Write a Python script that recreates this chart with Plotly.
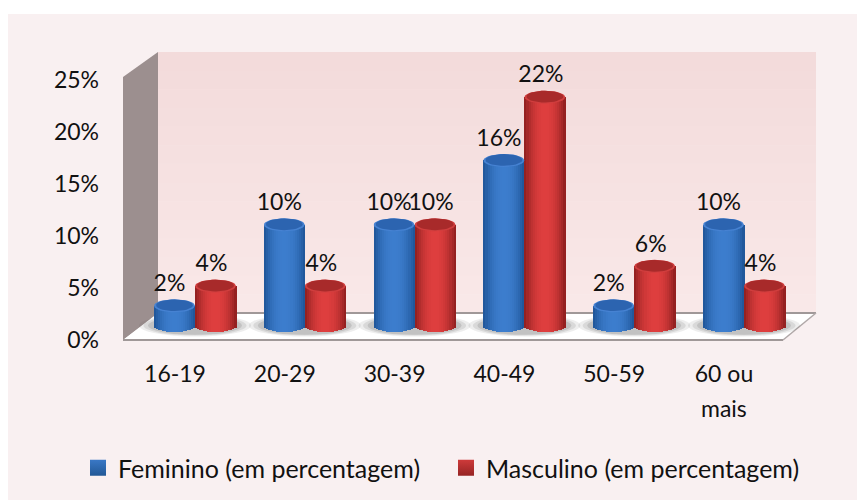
import math
import plotly.graph_objects as go

categories = ["16-19", "20-29", "30-39", "40-49", "50-59", "60 ou"]
extra_label = "mais"
feminino = [1.9, 9.7, 9.7, 15.9, 1.9, 9.7]
masculino = [3.8, 3.8, 9.7, 22.0, 5.7, 3.8]
y_ticks = [0, 5, 10, 15, 20, 25]
FONT = "Lato"
FS = 23
LEG_FS = 25

PAGE = 8                         # default page margin in front of the figure
W, H = 865, 500
L, R, T, B = 120, 820, 50, 344   # plot box in page px
PX0, UX = 175.0, 109.8           # px of first category, px per category
PY0, UY = 339.5, 10.38           # px of value 0, px per 1%

def dx(px): return (px - PX0) / UX
def dy(py): return (PY0 - py) / UY
def fx(px): return (px - L) / (R - L)
def fy(py): return (B - py) / (B - T)

BAR_W = 41 / UX
SHIFT = 20 / UX
DEPTH = dy(325.5)
RY = 6.5 / UY
N = 20

def lerp(a, b, t):
    return "rgb(%d,%d,%d)" % tuple(round(a[i] + (b[i] - a[i]) * t) for i in range(3))

series = [
    dict(name="Feminino (em percentagem)", vals=feminino, off=-BAR_W, edge=(30, 84, 150), mid=(60, 125, 205),
         cap=(44, 100, 176), rim=(70, 130, 210), leg=(58, 120, 198), leg2=(34, 88, 150)),
    dict(name="Masculino (em percentagem)", vals=masculino, off=0.0, edge=(140, 30, 30), mid=(222, 62, 62),
         cap=(168, 42, 42), rim=(208, 62, 62), leg=(206, 58, 58), leg2=(150, 36, 36)),
]

fig = go.Figure()

for s in series:
    sw = BAR_W / N
    for k in range(N):
        t = (k + 0.5) / N * 2 - 1
        drop = RY * math.sqrt(1 - t * t)
        fig.add_trace(go.Bar(
            x=list(range(len(categories))),
            y=[v + drop for v in s["vals"]],
            base=DEPTH - drop,
            width=sw * 1.25,
            offset=SHIFT + s["off"] + k * sw,
            marker=dict(color=lerp(s["edge"], s["mid"], 1 - abs(t) ** 2.2), line=dict(width=0)),
            showlegend=False, hoverinfo="skip",
        ))

def ellipses(vals, off, shrink, lift):
    xs, ys = [], []
    for i, v in enumerate(vals):
        cx = i + SHIFT + off + BAR_W / 2
        for a in range(0, 37):
            th = a * math.pi / 18
            xs.append(cx + (BAR_W / 2) * shrink * math.cos(th))
            ys.append(v + DEPTH + lift + RY * shrink * math.sin(th))
        xs.append(None); ys.append(None)
    return xs, ys

for s in series:
    x1, y1 = ellipses(s["vals"], s["off"], 1.0, 0)
    fig.add_trace(go.Scatter(x=x1, y=y1, mode="lines", fill="toself", fillcolor=lerp(s["rim"], s["rim"], 0),
                             line=dict(width=0), showlegend=False, hoverinfo="skip"))
    x2, y2 = ellipses(s["vals"], s["off"], 0.9, 0.05)
    fig.add_trace(go.Scatter(x=x2, y=y2, mode="lines", fill="toself", fillcolor=lerp(s["cap"], s["cap"], 0),
                             line=dict(width=0), showlegend=False, hoverinfo="skip"))

# data labels
LABEL_SHIFT = [-5 / UX, -4 / UX]
LABEL_LIFT = 2.5 / UY
for s, ls in zip(series, LABEL_SHIFT):
    fig.add_trace(go.Scatter(
        x=[i + SHIFT + s["off"] + BAR_W / 2 + ls for i in range(len(categories))],
        y=[v + DEPTH + RY + LABEL_LIFT for v in s["vals"]],
        mode="text", text=[f"{round(v)}%" for v in s["vals"]],
        textposition="top center", textfont=dict(family=FONT, size=FS, color="#111111"),
        showlegend=False, hoverinfo="skip", cliponaxis=False,
    ))

# legend entries
for s in series:
    fig.add_trace(go.Scatter(
        x=[None], y=[None], mode="markers", name=s["name"],
        marker=dict(symbol="square", size=16, color=lerp(s["leg"], s["leg"], 0),
                    gradient=dict(type="vertical", color=lerp(s["leg2"], s["leg2"], 0)), line=dict(width=0)),
    ))

shapes = []
def poly(points, fill, line=None, lw=0):
    path = "M" + "L".join(f"{dx(px):.4f},{dy(py):.4f}" for px, py in points) + "Z"
    shapes.append(dict(type="path", path=path, xref="x", yref="y", fillcolor=fill, layer="below",
                       line=dict(color=line or fill, width=lw)))

# card background
shapes.append(dict(type="rect", xref="paper", yref="paper", layer="below", line=dict(width=0), fillcolor="#F9F0F1",
                   x0=fx(0), x1=fx(W), y0=fy(H), y1=fy(14)))
# back wall bands
bands = 14
for b in range(bands):
    y0 = 52 + (313 - 52) * b / bands
    y1 = 52 + (313 - 52) * (b + 1) / bands + 0.5
    poly([(158, y0), (816, y0), (816, y1), (158, y1)], lerp((243, 219, 219), (249, 232, 232), b / (bands - 1)))
# side wall
poly([(123, 77), (158, 52), (158, 314), (123, 340)], "#9C8F8F")
# floor
poly([(123, 340), (158, 313), (816, 313), (783, 340)], "#FFFFFF")
shapes.append(dict(type="line", xref="x", yref="y", layer="below", x0=dx(158), x1=dx(816), y0=dy(313), y1=dy(313),
                   line=dict(color="#A09898", width=2)))
shapes.append(dict(type="line", xref="x", yref="y", layer="below", x0=dx(123), x1=dx(783), y0=dy(340), y1=dy(340),
                   line=dict(color="#A09898", width=2)))
shapes.append(dict(type="line", xref="x", yref="y", layer="below", x0=dx(783), x1=dx(816), y0=dy(340), y1=dy(313),
                   line=dict(color="#B0A8A8", width=1.5)))
# floor shadows
for i in range(len(categories)):
    cx = i + SHIFT
    for grow, alpha in ((1.0, 0.10), (0.92, 0.14), (0.84, 0.18)):
        rx = 56 / UX * grow
        ry = 11 / UY * grow
        shapes.append(dict(type="circle", xref="x", yref="y", layer="below", line=dict(width=0),
                           fillcolor=f"rgba(90,90,90,{alpha})",
                           x0=cx - rx, x1=cx + rx, y0=DEPTH - ry, y1=DEPTH + ry))

fig.update_layout(
    width=W - PAGE, height=H - PAGE, autosize=False,
    margin=dict(l=L - PAGE, r=W - R, t=T - PAGE, b=H - B, pad=0, autoexpand=False),
    paper_bgcolor="#FFFFFF", plot_bgcolor="rgba(0,0,0,0)",
    barmode="overlay", bargap=0, shapes=shapes,
    font=dict(family=FONT, size=FS, color="#111111"),
    xaxis=dict(range=[dx(L), dx(R)], tickmode="array", tickvals=list(range(len(categories))), ticktext=categories,
               showgrid=False, zeroline=False, showline=False, ticks="", ticklabelstandoff=14,
               tickfont=dict(family=FONT, size=FS, color="#111111")),
    yaxis=dict(range=[dy(B), dy(T)], tickmode="array", tickvals=y_ticks, ticktext=[f"{t}%" for t in y_ticks],
               showgrid=False, zeroline=False, showline=False, ticks="", ticklabelstandoff=20,
               tickfont=dict(family=FONT, size=FS, color="#111111")),
    legend=dict(orientation="h", x=fx(78), xanchor="left", y=fy(445), yanchor="top", entrywidth=323,
                font=dict(family=FONT, size=LEG_FS, color="#111111"), bgcolor="rgba(0,0,0,0)", itemwidth=30),
    annotations=[dict(x=len(categories) - 1, y=fy(408), xref="x", yref="paper", yanchor="middle", text=extra_label,
                      showarrow=False, font=dict(family=FONT, size=FS, color="#111111"))],
)
fig.write_html("out.html")
